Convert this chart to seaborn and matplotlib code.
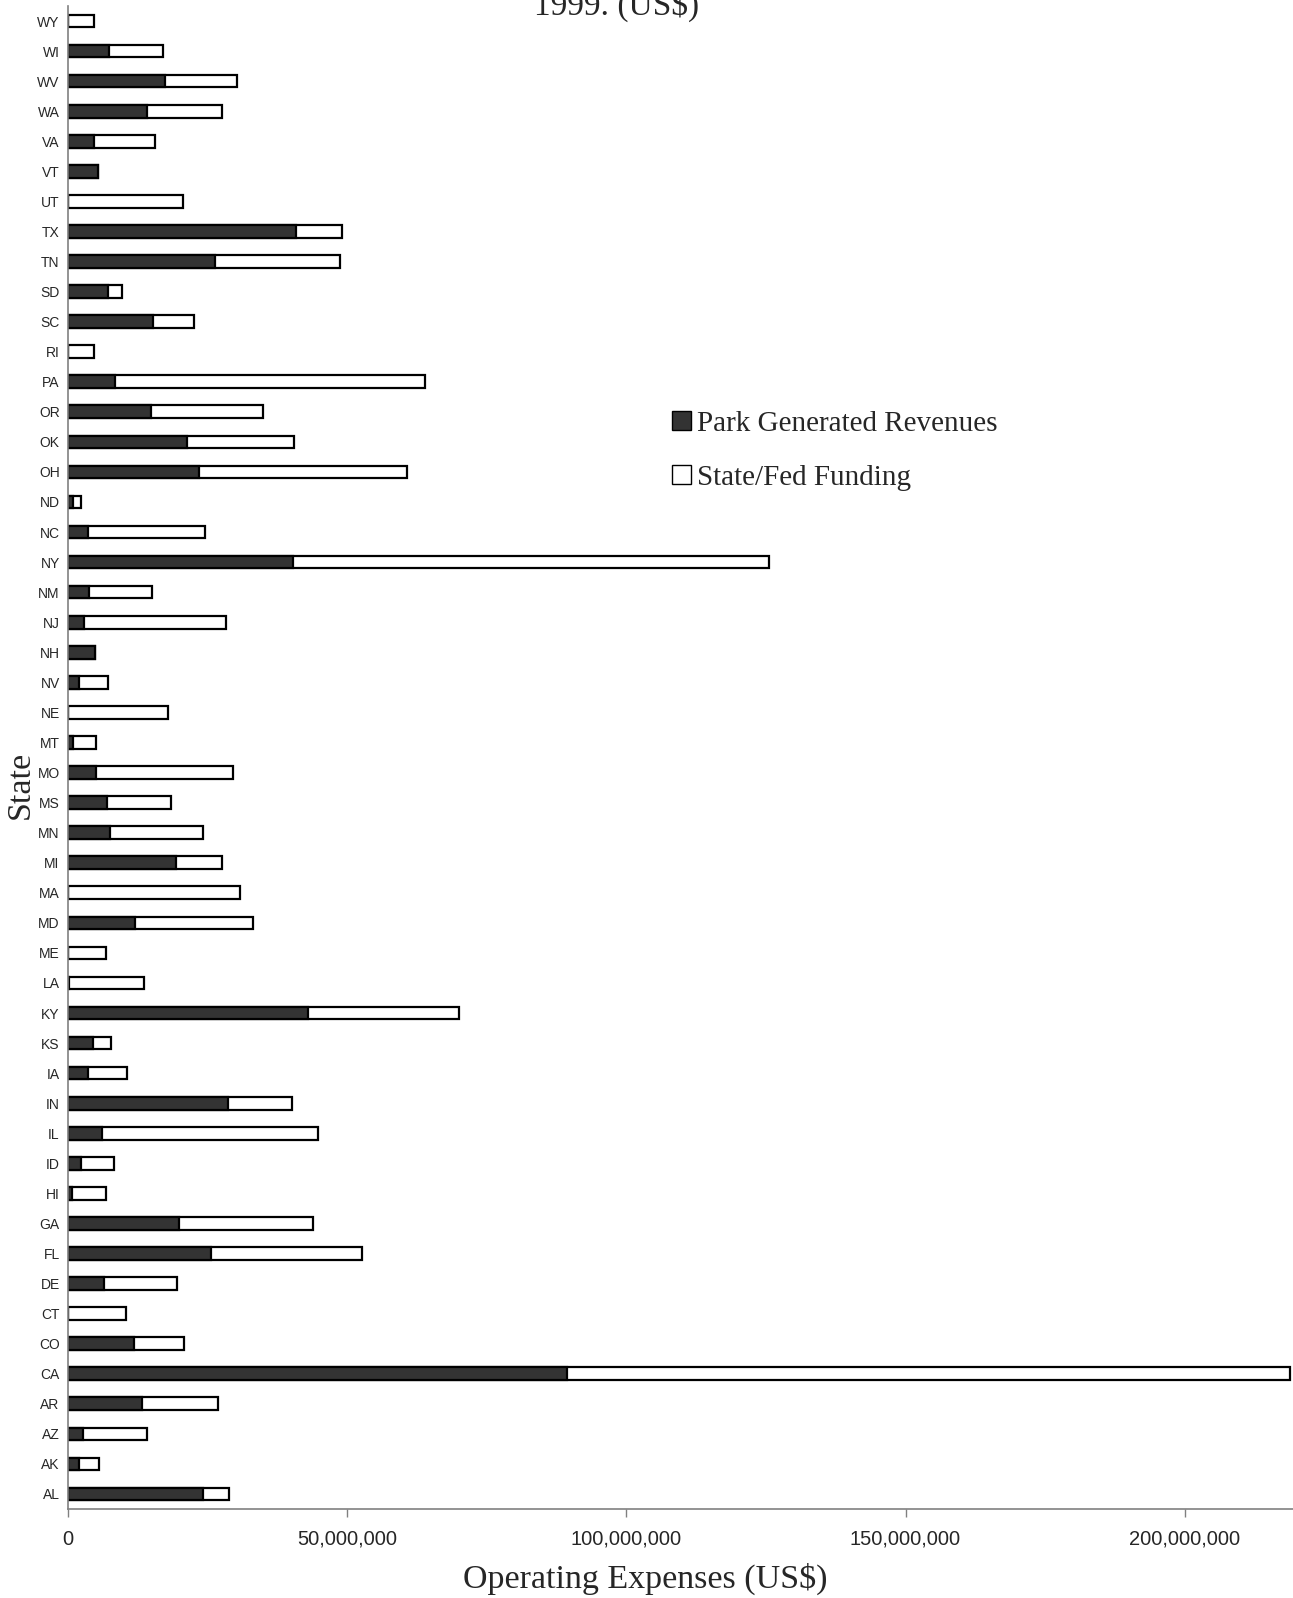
""" State park operating expenses by source, 1999 """

import numpy as np
import pandas as pd
import matplotlib
matplotlib.use('Agg')
import matplotlib.pyplot as plt
import matplotlib.ticker as mticker
from matplotlib.patches import Patch
import seaborn as sns

# states from top of the chart to the bottom
states = ['WY', 'WI', 'WV', 'WA', 'VA', 'VT', 'UT', 'TX', 'TN', 'SD',
          'SC', 'RI', 'PA', 'OR', 'OK', 'OH', 'ND', 'NC', 'NY', 'NM',
          'NJ', 'NH', 'NV', 'NE', 'MT', 'MO', 'MS', 'MN', 'MI', 'MA',
          'MD', 'ME', 'LA', 'KY', 'KS', 'IA', 'IN', 'IL', 'ID', 'HI',
          'GA', 'FL', 'DE', 'CT', 'CO', 'CA', 'AR', 'AZ', 'AK', 'AL']

# park generated revenues, million US$
revenues = [0.0, 7.3, 17.3, 14.2, 4.6, 5.3, 0.0, 40.9, 26.3, 7.1,
            15.3, 0.0, 8.4, 14.8, 21.4, 23.5, 0.9, 3.6, 40.3, 3.8,
            2.9, 4.9, 2.0, 0.0, 0.9, 5.1, 6.9, 7.5, 19.3, 0.0,
            12.0, 0.0, 0.2, 42.9, 4.4, 3.5, 28.6, 6.0, 2.4, 0.7,
            19.9, 25.7, 6.4, 0.0, 11.9, 89.4, 13.3, 2.6, 2.0, 24.1]

# state/federal funding, million US$
funding = [4.6, 9.7, 13.0, 13.4, 10.9, 0.0, 20.6, 8.2, 22.4, 2.6,
           7.3, 4.6, 55.5, 20.1, 19.1, 37.3, 1.5, 21.0, 85.2, 11.2,
           25.4, 0.0, 5.1, 17.9, 4.2, 24.5, 11.5, 16.6, 8.3, 30.8,
           21.2, 6.8, 13.5, 27.2, 3.3, 7.1, 11.5, 38.7, 5.8, 6.1,
           23.9, 27.0, 13.1, 10.4, 8.9, 129.4, 13.5, 11.6, 3.5, 4.7]

df = pd.DataFrame({'state': states,
                   'revenue': np.array(revenues) * 1e6,
                   'funding': np.array(funding) * 1e6})
df['total'] = df['revenue'] + df['funding']

sns.set_style('white')
plt.rcParams['font.family'] = ['Liberation Sans', 'DejaVu Sans']
serif = ['Liberation Serif', 'DejaVu Serif']

fig = plt.figure(figsize=(12.93, 15.98), dpi=100)
ax = fig.add_axes([68 / 1293, 1 - 1509 / 1598, 1 - 68 / 1293, 1503 / 1598])

dark = '#333333'
sns.barplot(data=df, x='total', y='state', order=states, color='white',
            edgecolor='black', linewidth=1.6, width=0.42, saturation=1,
            ax=ax)
sns.barplot(data=df, x='revenue', y='state', order=states, color=dark,
            edgecolor='black', linewidth=1.6, width=0.42, saturation=1,
            ax=ax)

ax.set_xlim(0, 219.4e6)
ax.xaxis.set_major_locator(mticker.MultipleLocator(50e6))
ax.xaxis.set_major_formatter(mticker.FuncFormatter(lambda v, p: f'{v:,.0f}'))
ax.tick_params(axis='x', labelsize=14.5, length=6, width=1, color='#808080',
               pad=9, direction='out', bottom=True)
ax.tick_params(axis='y', labelsize=10, length=0, pad=6)

for side in ['top', 'right']:
    ax.spines[side].set_visible(False)
for side in ['left', 'bottom']:
    ax.spines[side].set_color('#808080')
    ax.spines[side].set_linewidth(1.2)

ax.set_xlabel('Operating Expenses (US$)', fontsize=24.5, family=serif)
ax.xaxis.set_label_coords(0.471, -0.036)
ax.set_ylabel('State', fontsize=24.5, family=serif)
ax.yaxis.set_label_coords(-0.026, 0.482)

handles = [Patch(facecolor=dark, edgecolor='black', linewidth=1),
           Patch(facecolor='white', edgecolor='black', linewidth=1)]
ax.legend(handles, ['Park Generated Revenues', 'State/Fed Funding'],
          loc='upper left', bbox_to_anchor=(0.472, 0.748), frameon=False,
          prop={'family': serif, 'size': 21}, handlelength=0.65,
          handleheight=0.65, handletextpad=0.2, labelspacing=0.95)

fig.text(617 / 1293, 1 - 15 / 1598, '1999. (US$)', ha='center',
         va='baseline', fontsize=24, family=serif)

plt.savefig('out.png', dpi=100)
